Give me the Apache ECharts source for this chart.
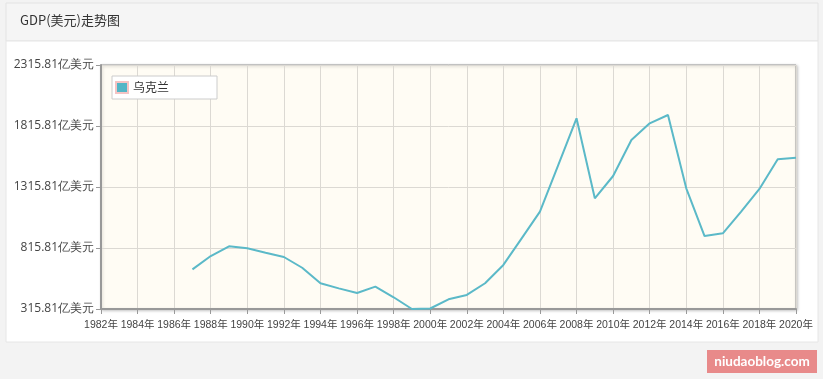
<!DOCTYPE html>
<html><head><meta charset="utf-8">
<script src="https://cdn.jsdelivr.net/npm/echarts@6/dist/echarts.min.js"></script>
<style>html,body{margin:0;padding:0;background:#f3f3f3;}#c{width:823px;height:379px;}</style>
</head><body><div id="c"></div>
<script>
var years = [];
for (var y = 1982; y <= 2020; y++) years.push(y + '年');
var seriesName = '乌克兰';
// GDP in 亿美元, 1982-1986 no data
var gdp = [null, null, null, null, null,
  641, 750, 830, 813, 777, 742, 654, 527, 485, 447, 499, 412, 315.81, 320,
  395, 431, 527, 677, 895, 1114, 1496, 1879, 1223, 1406, 1701, 1838, 1906,
  1305, 914, 936, 1114, 1300, 1543, 1556];
var yMin = 315.81, yMax = 2315.81, yStep = 500;

var chart = echarts.init(document.getElementById('c'));
chart.setOption({
  backgroundColor: '#f3f3f3',
  animation: false,
  graphic: [
    {type:'rect', shape:{x:6,y:3,width:812,height:38}, style:{fill:'#f5f5f5', stroke:'#e3e3e3', lineWidth:1}, z:-10},
    {type:'rect', shape:{x:6,y:41,width:812,height:301}, style:{fill:'#ffffff', stroke:'#e6e6e6', lineWidth:1}, z:-10},
    {type:'text', left:20, top:14, style:{text:'GDP(美元)走势图', fill:'#333', font:'13px "Noto Sans CJK SC", sans-serif'}},
    {type:'rect', shape:{x:707,y:350,width:110,height:23}, style:{fill:'#e88a8a'}},
    {type:'text', x:762, y:361.5, style:{text:'niudaoblog.com', fill:'#fff', font:'bold 13.5px "Lato", sans-serif', align:'center', verticalAlign:'middle'}}
  ],
  legend: {
    show: true, left: 112, top: 76, orient: 'vertical',
    data: [seriesName],
    backgroundColor: '#fff', borderColor: '#ccc', borderWidth: 1,
    padding: [5, 48, 5, 3],
    itemWidth: 12, itemHeight: 11, itemGap: 2,
    icon: 'rect',
    textStyle: {fontSize: 12, color: '#333', fontFamily: '"Noto Sans CJK SC", sans-serif'}
  },
  grid: {left: 101, right: 27, top: 65, bottom: 70, show: true, backgroundColor: '#fffcf4', borderColor: '#999', borderWidth: 1,
    shadowColor: 'rgba(0,0,0,0.25)', shadowBlur: 3, shadowOffsetX: 1, shadowOffsetY: 1},
  xAxis: {
    type: 'category', data: years, boundaryGap: false,
    axisLine: {lineStyle: {color: '#999', width: 2}},
    axisTick: {interval: 1, length: 5, lineStyle: {color: '#999'}},
    axisLabel: {interval: 1, showMinLabel: true, showMaxLabel: true, hideOverlap: false,
      color: '#444', fontSize: 10.5, margin: 11, fontFamily: '"Liberation Sans", "Noto Sans CJK SC", sans-serif'},
    splitLine: {show: true, interval: 1, lineStyle: {color: '#dcd9d3', width: 1}}
  },
  yAxis: {
    type: 'value', min: yMin, max: yMax, interval: yStep,
    axisLine: {show: true, lineStyle: {color: '#999', width: 2}},
    axisTick: {show: true, length: 5, lineStyle: {color: '#999'}},
    axisLabel: {color: '#444', fontSize: 12, margin: 7, fontFamily: '"Open Sans", sans-serif',
      formatter: function (v) { return v.toFixed(2) + '亿美元'; }},
    splitLine: {show: true, lineStyle: {color: '#dcd9d3', width: 1}}
  },
  series: [{
    name: seriesName, type: 'line', data: gdp, showSymbol: false, symbol: 'none',
    connectNulls: false,
    itemStyle: {color: '#52b6c6', borderColor: '#f4c4c4', borderWidth: 0.5},
    lineStyle: {color: '#5bb9c8', width: 2}
  }]
});
</script></body></html>
